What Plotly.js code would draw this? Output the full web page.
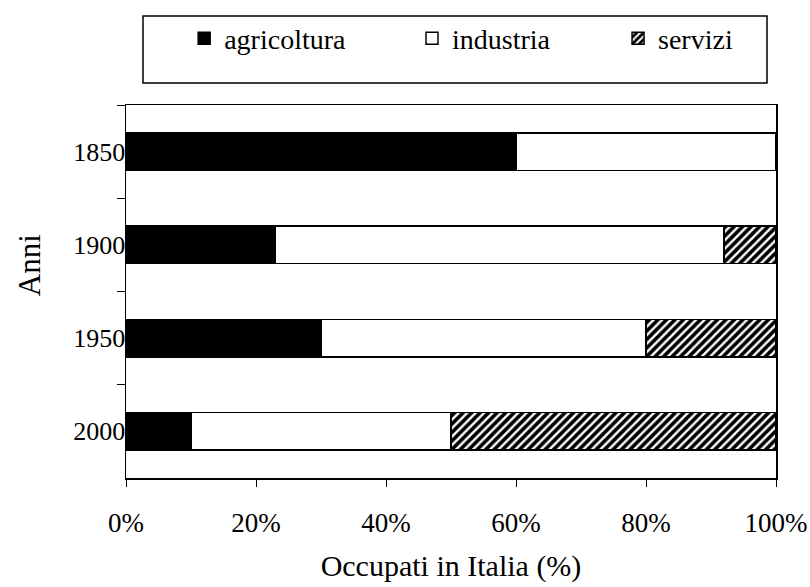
<!DOCTYPE html>
<html>
<head>
<meta charset="utf-8">
<script src="https://cdn.plot.ly/plotly-3.0.1.min.js"></script>
<style>html,body{margin:0;padding:0;background:#fff;}#chart{width:810px;height:587px;}</style>
</head>
<body>
<div id="chart"></div>
<script>
const anni = ['1850', '1900', '1950', '2000'];
const agricoltura = [60, 23, 30, 10];
const industria = [40, 69, 50, 40];
const servizi = [0, 8, 20, 50];
const xTicks = [0, 20, 40, 60, 80, 100];

const FONT = '"Liberation Serif", "Times New Roman", serif';
const line = {color: '#000', width: 1.5};

const traces = [
  {name: 'agricoltura', type: 'bar', orientation: 'h', y: anni, x: agricoltura, legend: 'legend',
   marker: {color: '#000', line: line}},
  {name: 'industria', type: 'bar', orientation: 'h', y: anni, x: industria, legend: 'legend2',
   marker: {color: '#fff', line: line}},
  {name: 'servizi', type: 'bar', orientation: 'h', y: anni, x: servizi, legend: 'legend3',
   marker: {color: '#fff', line: line,
     pattern: {shape: '/', fgcolor: '#000', bgcolor: '#fff', size: 6, solidity: 0.6}}}
];

function leg(x) {
  return {orientation: 'h', x: x, xanchor: 'left', y: 1.178, yanchor: 'middle',
    font: {family: FONT, size: 28, color: '#000'},
    bgcolor: 'rgba(0,0,0,0)', borderwidth: 0};
}

const layout = {
  width: 810, height: 587,
  margin: {l: 126, r: 34, t: 105, b: 109, autoexpand: false},
  paper_bgcolor: '#fff', plot_bgcolor: '#fff',
  font: {family: FONT, color: '#000', size: 26},
  barmode: 'stack',
  bargap: 0.6,
  showlegend: true,
  legend: leg(0.0895),
  legend2: leg(0.44),
  legend3: leg(0.757),
  xaxis: {range: [0, 100], tickvals: xTicks, ticktext: xTicks.map(v => v + '%'),
    showgrid: false, zeroline: false, showline: true, mirror: true, linecolor: '#000', linewidth: 1.5,
    ticks: 'outside', ticklen: 7, tickcolor: '#000', tickwidth: 1,
    ticklabelstandoff: 13,
    tickfont: {family: FONT, size: 27},
    title: {text: 'Occupati in Italia (%)', font: {family: FONT, size: 30}, standoff: 18}},
  yaxis: {type: 'category', categoryorder: 'array', categoryarray: anni, autorange: 'reversed',
    showgrid: false, zeroline: false, showline: true, mirror: true, linecolor: '#000', linewidth: 1.5,
    ticks: 'outside', tickson: 'boundaries', ticklen: 8, tickcolor: '#000', tickwidth: 1,
    ticklabelstandoff: -6,
    tickfont: {family: FONT, size: 26}},
  shapes: [{type: 'rect', xref: 'paper', yref: 'paper',
    x0: (143 - 126) / 650, x1: (767 - 126) / 650, y0: (478 - 83) / 373, y1: (478 - 16) / 373,
    line: {color: '#000', width: 1.5}, fillcolor: 'rgba(0,0,0,0)'}],
  annotations: [{text: 'Anni', xref: 'paper', yref: 'paper', x: -0.148, y: 0.57,
    xanchor: 'center', yanchor: 'middle', textangle: -90, showarrow: false,
    font: {family: FONT, size: 31, color: '#000'}}]
};

Plotly.newPlot('chart', traces, layout, {staticPlot: true, displayModeBar: false});
</script>
</body>
</html>
